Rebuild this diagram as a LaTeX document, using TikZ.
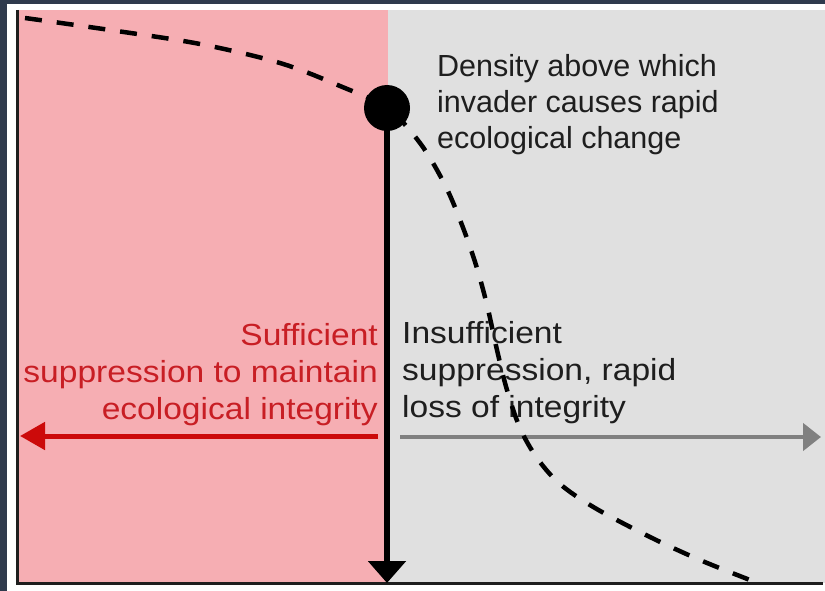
\documentclass[tikz,border=0pt]{standalone}
\usepackage{fontspec}
\setmainfont{Liberation Sans}
\usetikzlibrary{arrows.meta}
\definecolor{darkbg}{HTML}{2F3A4D}
\definecolor{pinkbg}{HTML}{F6AEB3}
\definecolor{greybg}{HTML}{E0E0E0}
\definecolor{redtxt}{HTML}{C81E24}
\definecolor{redarrow}{HTML}{CC0A0A}
\definecolor{greyarrow}{HTML}{808080}
\definecolor{inktxt}{HTML}{1E1E1E}
\begin{document}
\begin{tikzpicture}[x=1pt,y=-1pt,
  txt/.style={inner sep=0pt, font=\fontsize{30.5}{37}\selectfont},
  axisline/.style={draw=inktxt, line width=3pt},
  thresholdline/.style={draw=black, line width=6pt, -{Triangle[length=22pt,width=37pt]}},
  redarr/.style={draw=redarrow, line width=5pt, -{Triangle[length=25pt,width=27pt]}},
  greyarr/.style={draw=greyarrow, line width=4.5pt, -{Triangle[length=18pt,width=27pt]}},
  curveline/.style={draw=black, line width=4.5pt, dash pattern=on 17pt off 15pt}]
\useasboundingbox (0,0) rectangle (825,591);
% backgrounds
\fill[darkbg] (0,0) rectangle (825,591);
\fill[white] (7,4) rectangle (825,591);
\fill[pinkbg] (17,10) rectangle (388,583);
\fill[greybg] (388,10) rectangle (825,583);
% axes
\coordinate (ytop) at (17,10);
\coordinate (origin) at (17,583);
\coordinate (xend) at (823,583);
\draw[axisline] (ytop) -- (origin) -- (xend);
% texts
\node[txt, text=redtxt, anchor=base east] (suff) at (378,345)
  {\scalebox{1.1}[1]{\begin{tabular}[t]{@{}r@{}}Sufficient\\suppression to maintain\\ecological integrity\end{tabular}}};
\node[txt, text=inktxt, anchor=base west] (insuff) at (402,343)
  {\scalebox{1.1}[1]{\begin{tabular}[t]{@{}l@{}}Insufficient\\suppression, rapid\\loss of integrity\end{tabular}}};
\node[txt, text=inktxt, anchor=base west, font=\fontsize{30.5}{36}\selectfont] (dens) at (437,77)
  {\begin{tabular}[t]{@{}l@{}}Density above which\\invader causes rapid\\ecological change\end{tabular}};
% horizontal arrows
\coordinate (rs) at (378,436);
\coordinate (re) at (20,436);
\coordinate (gs) at (400,437);
\coordinate (ge) at (821,437);
\draw[redarr] (rs) -- (re);
\draw[greyarr] (gs) -- (ge);
% dashed curve
\draw[curveline] plot[smooth, tension=0.55] coordinates {
  (25,18) (110,30) (200,44) (280,63) (340,86) (387,108) (420,143) (445,185)
  (462,225) (476,265) (487,305) (497,350) (507,390) (520,428) (537,458)
  (560,484) (595,508) (650,537) (700,560) (750,580)};
% threshold
\node[circle, fill=black, minimum size=46pt, inner sep=0pt] (thr) at (387,108) {};
\coordinate (base) at (387,583);
\draw[thresholdline] (thr.center) -- (base);
\end{tikzpicture}
\end{document}
